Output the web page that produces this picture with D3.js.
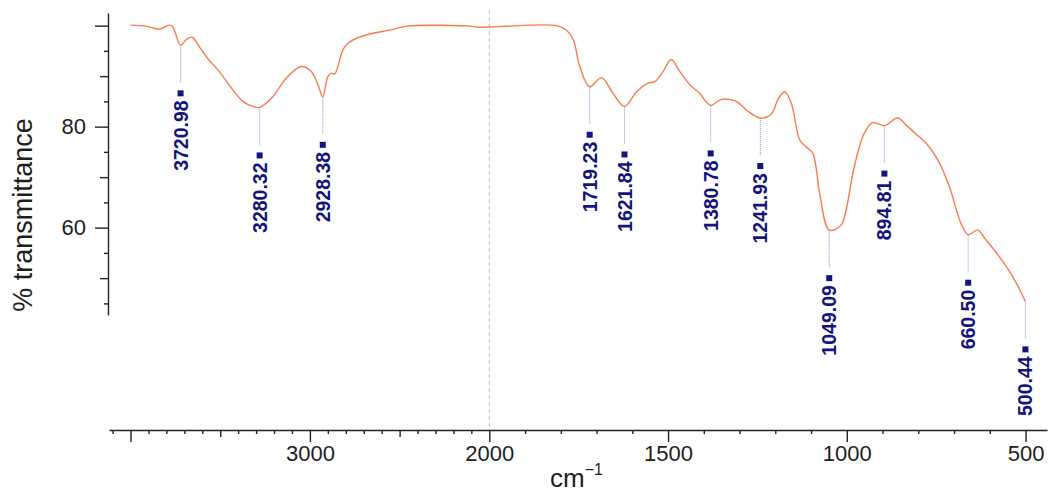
<!DOCTYPE html>
<html>
<head>
<meta charset="utf-8">
<script src="https://cdn.jsdelivr.net/npm/d3@7"></script>
<style>
    body { margin: 0; background: #fff; }
    svg { display: block; font-family: "Liberation Sans", Arial, sans-serif; }
</style>
</head>
<body>
<svg></svg>
<script>
// spectrum (cm-1, % transmittance)
const wavenumber = [4000, 3914, 3840, 3784, 3765, 3720.98, 3691, 3657, 3616, 3570, 3505, 3430, 3374, 3318, 3280.32,
    3207, 3132, 3048, 2992, 2955, 2928.38, 2900, 2880, 2862, 2816, 2788, 2741, 2648, 2555, 2461, 2108, 2070,
    1979, 1812, 1784, 1765, 1747, 1719.23, 1686, 1654, 1621.84, 1588, 1556, 1537, 1514, 1491, 1467, 1439, 1412,
    1380.78, 1351, 1309, 1281, 1241.93, 1211, 1193, 1174, 1155, 1132, 1114, 1095, 1076, 1049.09, 1016, 1002,
    979, 951, 928, 894.81, 858, 834, 806, 778, 741, 713, 681, 660.50, 634, 611, 574, 536, 500.44];
const transmittance = [100.1, 99.9, 99.3, 100.1, 99.8, 96.1, 97.2, 97.7, 95.8, 93.5, 90.9, 87.3, 85.0, 84.0, 83.8,
    85.9, 89.6, 91.9, 90.9, 88.3, 85.9, 89.9, 90.6, 90.4, 95.2, 96.5, 97.5, 98.5, 99.1, 99.9, 99.9, 99.7,
    99.8, 100, 99.1, 97.2, 91.9, 87.9, 89.7, 86.6, 84.0, 86.9, 88.6, 88.9, 90.9, 93.3, 90.9, 88.3, 86.6,
    84.2, 85.4, 85.0, 83.3, 81.7, 82.5, 85.3, 86.9, 84.6, 77.4, 76.0, 74.7, 66.8, 59.5, 60.5, 63.5,
    72.1, 78.7, 80.8, 80.2, 81.7, 80.3, 78.5, 76.7, 72.8, 68.1, 60.9, 58.6, 59.5, 57.6, 54.3, 50.3, 45.4];

// picked peaks
const peakWavenumber = [3720.98, 3280.32, 2928.38, 1719.23, 1621.84, 1380.78, 1241.93, 1049.09, 894.81, 660.50, 500.44];
const peakTransmittance = [96.1, 83.8, 85.9, 87.9, 84.0, 84.2, 81.7, 59.5, 80.2, 58.6, 45.4];
const peakLabels = ["3720.98", "3280.32", "2928.38", "1719.23", "1621.84", "1380.78", "1241.93", "1049.09", "894.81", "660.50", "500.44"];

// ticks
const xMajorTicks = [4000, 3000, 2000, 1500, 1000, 500];
const xLabelTicks = [3000, 2000, 1500, 1000, 500];
const xMidTicks = [3500, 2500];
const yMajorTicks = [100, 80, 60];
const yLabelTicks = [80, 60];
const yMidTicks = [90, 70, 50];

function drawChart() {
    const svgWidth = 1048, svgHeight = 492;
    const axisY = 430, axisX = 108;

    const svg = d3.select('svg')
        .attr("width", svgWidth).attr("height", svgHeight);

    // x is compressed above 2000 cm-1
    const x = d3.scaleLinear().domain([4120, 2000, 440]).range([109, 489.3, 1047]);
    const y = d3.scaleLinear().domain([42.7, 102.5]).range([315, 13]);

    const data = wavenumber.map(function(w, i) { return { wn: w, t: transmittance[i] } });
    const peaks = peakWavenumber.map(function(w, i) {
        return { wn: w, t: peakTransmittance[i], label: peakLabels[i] }
    });

    // dashed marker at 2000
    svg.append("line")
        .attr("x1", x(2000)).attr("x2", x(2000))
        .attr("y1", 10).attr("y2", axisY)
        .attr("stroke", "#c4c4c4")
        .attr("stroke-dasharray", "4,3");

    // x axis, three tick lengths
    function xAxis(values, size, labelled) {
        const a = svg.append("g")
            .attr("transform", "translate(0," + axisY + ")")
            .call(d3.axisBottom(x).tickValues(values).tickSize(size).tickSizeOuter(0)
                .tickPadding(3)
                .tickFormat(function(d) { return labelled && xLabelTicks.includes(d) ? d : "" }));
        return a;
    }
    const xMinor = d3.range(4100, 499, -100).filter(function(d) {
        return !xMajorTicks.includes(d) && !xMidTicks.includes(d)
    });
    xAxis(xMinor, 4, false).select(".domain").remove();
    xAxis(xMidTicks, 7, false).select(".domain").remove();
    const xa = xAxis(xMajorTicks, 12, true);

    // y axis
    function yAxis(values, size, labelled) {
        return svg.append("g")
            .attr("transform", "translate(" + axisX + ",0)")
            .call(d3.axisLeft(y).tickValues(values).tickSize(size).tickSizeOuter(0)
                .tickPadding(9)
                .tickFormat(function(d) { return labelled && yLabelTicks.includes(d) ? d : "" }));
    }
    const yMinor = d3.range(45, 101, 5).filter(function(d) {
        return !yMajorTicks.includes(d) && !yMidTicks.includes(d)
    });
    yAxis(yMinor, 4, false).select(".domain").remove();
    yAxis(yMidTicks, 8, false).select(".domain").remove();
    const ya = yAxis(yMajorTicks, 13, true);

    svg.selectAll(".tick line").attr("stroke", "#222").attr("stroke-width", 1.4);
    svg.selectAll(".domain").attr("stroke", "#222").attr("stroke-width", 1.4);
    svg.selectAll(".tick text")
        .attr("fill", "#1e1e1e")
        .style("font-size", "22px")
        .style("font-family", "'Liberation Sans', Arial, sans-serif");

    // axis titles
    svg.append("text")
        .attr("transform", "translate(32,215) rotate(-90)")
        .attr("text-anchor", "middle")
        .attr("fill", "#1e1e1e")
        .style("font-size", "27px")
        .text("% transmittance");

    const xt = svg.append("text")
        .attr("x", 550).attr("y", 487)
        .attr("fill", "#1e1e1e")
        .style("font-size", "26px");
    xt.append("tspan").text("cm");
    xt.append("tspan").attr("dy", -12).style("font-size", "16px").text("\u22121");

    // spectrum
    const line = d3.line()
        .x(function(d) { return x(d.wn) })
        .y(function(d) { return y(d.t) })
        .curve(d3.curveCatmullRom.alpha(0.5));

    svg.append("path")
        .datum(data)
        .attr("fill", "none")
        .attr("stroke", "#fb7a4e")
        .attr("stroke-width", 1.4)
        .attr("stroke-linejoin", "round")
        .attr("d", line);

    // peak labels
    const pk = svg.append("g").selectAll("g")
        .data(peaks)
        .enter().append("g")
        .attr("transform", function(d) { return "translate(" + x(d.wn) + "," + y(d.t) + ")" });

    pk.append("line")
        .attr("x1", 0).attr("x2", 0)
        .attr("y1", 0).attr("y2", 37)
        .attr("stroke", "#8e8ed4")
        .attr("stroke-width", 1)
        .attr("stroke-dasharray", "1,1");

    pk.append("rect")
        .attr("x", -3).attr("y", 45)
        .attr("width", 6).attr("height", 6)
        .attr("fill", "#14147e");

    pk.append("text")
        .attr("transform", "translate(0,55) rotate(-90)")
        .attr("text-anchor", "end")
        .attr("dy", "0.36em")
        .attr("fill", "#14147e")
        .style("font-size", "19.5px")
        .style("font-weight", "bold")
        .text(function(d) { return d.label });
}

drawChart();
</script>
</body>
</html>
